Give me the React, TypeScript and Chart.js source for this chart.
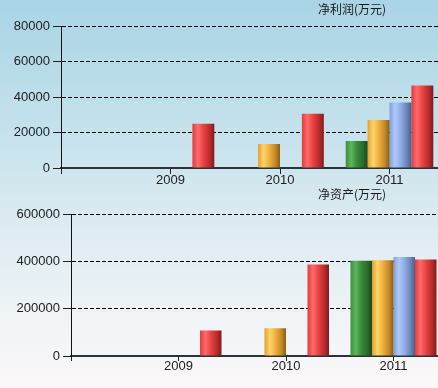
import React, { useEffect, useRef } from 'react';
import { Chart, registerables } from 'chart.js';

Chart.register(...registerables);

const categories = ['', '2009', '2010', '2011', '', ''];
const seriesNames = ['一季报', '中报', '三季报', '年报'];

const profitQ1 = [null, null, null, 15200, null, null];
const profitH1 = [null, null, 13500, 27000, null, null];
const profitQ3 = [null, null, null, 36900, null, null];
const profitFY = [null, 25000, 30500, 46500, null, null];

const assetsQ1 = [null, null, null, 402000, null, null];
const assetsH1 = [null, null, 117000, 405000, null, null];
const assetsQ3 = [null, null, null, 418000, null, null];
const assetsFY = [null, 108000, 387000, 408000, null, null];

const profitTitle = '净利润(万元)';
const assetsTitle = '净资产(万元)';

const seriesStops: string[][] = [
  ['#3d8c3d', '#5cb85c', '#3a8a3a', '#2a6a2a', '#1a4a1a'],
  ['#e0a030', '#ffd46a', '#f0b040', '#c08828', '#8a5e14'],
  ['#809fdc', '#afc8fa', '#90aee8', '#6a84b8', '#4a5e88'],
  ['#e03c3c', '#ff6a6a', '#e84444', '#b82a2a', '#7e1c1c'],
];
const stopPos = [0, 0.25, 0.5, 0.8, 1];

const cylinderPlugin = {
  id: 'cylinder',
  beforeDatasetsDraw(chart: any) {
    const ctx = chart.ctx;
    chart.data.datasets.forEach((ds: any, di: number) => {
      const meta = chart.getDatasetMeta(di);
      meta.data.forEach((el: any) => {
        if (el.x == null || isNaN(el.x) || !el.width) return;
        const g = ctx.createLinearGradient(el.x - el.width / 2, 0, el.x + el.width / 2, 0);
        seriesStops[di].forEach((c, i) => g.addColorStop(stopPos[i], c));
        el.options.backgroundColor = g;
      });
    });
  },
};

function makeConfig(
  title: string,
  values: (number | null)[][],
  yMax: number,
  yStep: number,
  axisWidth: number,
  rightWidth: number,
  titlePad: { top: number; bottom: number },
  xTickLen: number,
  xPad: number
): any {
  return {
    type: 'bar',
    data: {
      labels: categories,
      datasets: values.map((v, i) => ({
        label: seriesNames[i],
        data: v,
        backgroundColor: () => seriesStops[i][2],
        borderWidth: 0,
        categoryPercentage: 0.8,
        barPercentage: 1,
      })),
    },
    options: {
      responsive: false,
      animation: false,
      devicePixelRatio: 1,
      layout: { padding: 0 },
      plugins: {
        legend: { display: false },
        tooltip: { enabled: false },
        title: {
          display: true,
          text: title,
          color: '#1a1a1a',
          font: { family: '"Noto Sans CJK SC", sans-serif', size: 12, weight: 'normal', lineHeight: 1.2 },
          padding: titlePad,
        },
      },
      scales: {
        x: {
          type: 'category',
          offset: false,
          grid: {
            offset: false,
            drawOnChartArea: false,
            drawTicks: true,
            tickLength: xTickLen,
            tickColor: '#222',
            color: '#222',
          },
          border: { display: true, color: '#2a3438', width: 2 },
          ticks: {
            color: '#222',
            padding: xPad,
            maxRotation: 0,
            autoSkip: false,
            font: { family: '"Liberation Sans", Arial, sans-serif', size: 13, lineHeight: 1 },
          },
        },
        y: {
          type: 'linear',
          position: 'left',
          min: 0,
          max: yMax,
          afterFit: (s: any) => {
            s.width = axisWidth;
          },
          grid: {
            color: '#000',
            lineWidth: 1,
            tickLength: 8,
            tickColor: '#222',
            tickBorderDash: [],
          },
          border: { display: true, color: '#111', width: 1, dash: [4, 2] },
          ticks: {
            stepSize: yStep,
            color: '#222',
            padding: 3,
            font: { family: '"Liberation Sans", Arial, sans-serif', size: 13 },
            callback: (v: any) => String(v),
          },
        },
        yRight: {
          type: 'linear',
          position: 'right',
          display: true,
          afterFit: (s: any) => {
            s.width = rightWidth;
          },
          grid: { display: false, drawTicks: false },
          border: { display: false },
          ticks: { display: false },
        },
      },
    },
    plugins: [cylinderPlugin],
  };
}

function BarChart(props: { config: any; width: number; height: number; top: number }) {
  const ref = useRef<HTMLCanvasElement | null>(null);
  useEffect(() => {
    if (!ref.current) return;
    const chart = new Chart(ref.current, props.config);
    return () => chart.destroy();
  }, []);
  return (
    <canvas
      ref={ref}
      width={props.width}
      height={props.height}
      style={{ position: 'absolute', left: 0, top: props.top, width: props.width, height: props.height }}
    />
  );
}

export default function App() {
  const topConfig = makeConfig(
    profitTitle,
    [profitQ1, profitH1, profitQ3, profitFY],
    80000,
    20000,
    61,
    95.5,
    { top: 2, bottom: 9.6 },
    6,
    0
  );
  const bottomConfig = makeConfig(
    assetsTitle,
    [assetsQ1, assetsH1, assetsQ3, assetsFY],
    600000,
    200000,
    71,
    95.5,
    { top: 1, bottom: 12.6 },
    5,
    -1
  );
  return (
    <div
      style={{
        position: 'fixed',
        left: 0,
        top: 0,
        width: 438,
        height: 388,
        overflow: 'hidden',
        background: 'linear-gradient(180deg, #a9d4e5 0%, #c6e2ec 35%, #dbeaf0 55%, #eef3f6 80%, #fbf8f9 100%)',
      }}
    >
      <BarChart config={topConfig} width={704} height={187} top={0} />
      <BarChart config={bottomConfig} width={704} height={186} top={186} />
    </div>
  );
}
